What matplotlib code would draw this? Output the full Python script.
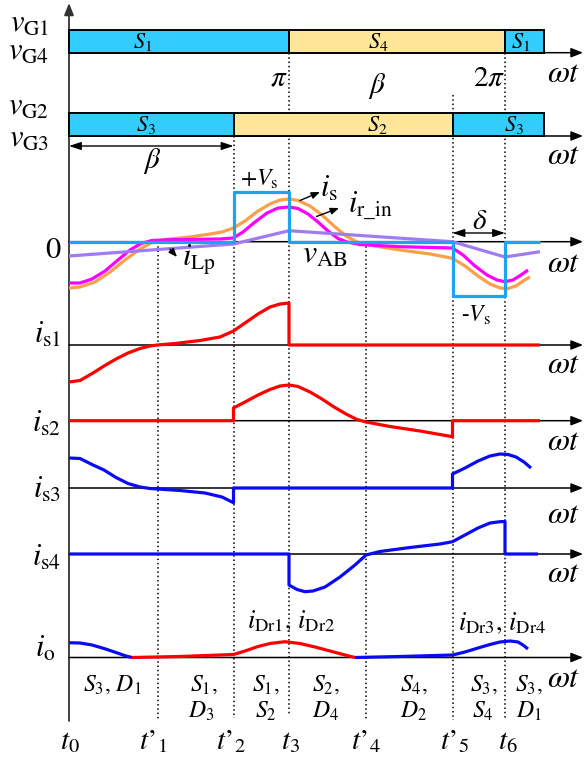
import matplotlib
matplotlib.use("Agg")
import matplotlib.pyplot as plt
from matplotlib.patches import Rectangle

plt.rcParams['mathtext.fontset'] = 'stix'
plt.rcParams['font.family'] = ['STIXGeneral', 'Liberation Serif', 'DejaVu Serif']

# ---------------- data ----------------
# switching instants along the wt axis
event_labels = ["$t_0$", "$t\u2019_1$", "$t\u2019_2$", "$t_3$", "$t\u2019_4$", "$t\u2019_5$", "$t_6$"]
event_x = [69, 157.5, 233.5, 289, 366, 452.5, 505]

# gate signals
gate1_edges = [69, 289, 505, 544]
gate1_labels = ["$S_1$", "$S_4$", "$S_1$"]
gate1_on = [True, False, True]
gate2_edges = [69, 233.5, 452.5, 544]
gate2_labels = ["$S_3$", "$S_2$", "$S_3$"]
gate2_on = [True, False, True]

# v_AB (relative to zero line, up positive)
vab_x = [69, 233.5, 233.5, 289, 289, 452.5, 452.5, 505, 505, 540]
vab_v = [0, 0, 50, 50, 0, 0, -54, -54, 0, 0]

# i_s (orange)
is_x = [69, 80, 95, 110, 125, 140, 151, 165, 190, 210, 222, 233.5, 245, 258, 270, 280,
        289, 298, 310, 322, 334, 346, 357, 375, 400, 430, 452.5, 465, 478, 490, 500,
        508, 516, 523, 530]
is_v = [-46.3, -45.3, -40.3, -30.3, -18.3, -7.3, -1.3, 2.2, 4.7, 7.7, 9.7, 13.7, 20.7,
        30.7, 37.7, 41.7, 42.7, 41.2, 35.7, 26.7, 15.7, 5.7, -0.3, -4.3, -8.3, -12.3,
        -16.6, -24.3, -34.3, -42.3, -46.3, -46.8, -44.3, -39.3, -35.3]

# i_r_in (magenta)
irin_x = [69, 80, 92, 105, 118, 130, 141, 152, 170, 200, 220, 233.5, 243, 255, 267, 278,
          289, 298, 308, 318, 328, 338, 347, 360, 400, 452.5, 463, 475, 487, 497, 505,
          513, 521, 528]
irin_v = [-41.3, -41.3, -37.3, -29.3, -18.3, -8.3, -1.8, 1.2, 2.0, 2.4, 2.7, 3.7, 9.7,
          19.7, 28.7, 33.7, 34.7, 33.2, 27.7, 19.7, 10.7, 3.2, -0.3, -2.8, -5.0, -6.3,
          -13.3, -24.3, -33.3, -38.3, -40.0, -38.3, -33.3, -28.3]

# i_Lp (purple)
ilp_x = [69, 233.5, 289, 452.5, 505, 540]
ilp_v = [-14.3, -2.3, 11.0, 0.0, -15.3, -10.0]

# i_s1
is1_x = [69, 80, 93, 104, 116, 128, 140, 150, 157.5, 175, 200, 220, 233.5, 245, 258,
         270, 280, 289, 289, 540]
is1_v = [-37, -35.5, -28, -21, -14, -8, -3.5, -1, 0, 1.5, 4.5, 8, 14, 22, 31, 38, 41,
         42, 0, 0]

# i_s2
is2_x = [69, 233.5, 233.5, 245, 258, 270, 280, 289, 298, 310, 322, 334, 346, 357, 366,
         390, 420, 452.5, 452.5, 540]
is2_v = [0, 0, 12.7, 18.7, 25.7, 31.2, 34.7, 35.7, 34.2, 28.7, 21.7, 13.7, 6.7, 1.2,
         -1.3, -5.8, -10.3, -16.0, 0, 0]

# i_s3
is3_x = [69, 80, 93, 104, 116, 128, 140, 150, 157.5, 180, 205, 222, 233.5, 233.5,
         452.5, 452.5, 465, 478, 490, 500, 508, 516, 524, 531]
is3_v = [30, 29.5, 23, 18, 10.5, 4.5, 1, -0.5, -1, -2.5, -5, -9, -14.7, 0,
         0, 14, 20, 27, 32, 34, 33.5, 31, 26, 20]

# i_s4
is4_x = [69, 289, 289, 297, 305, 313, 325, 340, 355, 366, 380, 410, 440, 452.5, 465,
         478, 490, 500, 505, 505, 538]
is4_v = [0, 0, -31, -35.5, -37.7, -37, -33, -23, -11, -1, 2.5, 6.5, 10, 12.3, 19, 26,
         31, 32.3, 32.5, 0, 0]

# i_o segments (rectifier diode currents)
io_seg1_x = [69, 80, 92, 104, 116, 126, 132]
io_seg1_v = [14.8, 14.5, 12.5, 9, 5, 1.5, 0]
io_seg2_x = [132, 180, 233.5, 245, 258, 270, 285, 300, 315, 330, 345, 355]
io_seg2_v = [0, 1, 3, 6.5, 11, 14, 15.8, 14, 10.5, 6.5, 2.5, 0]
io_seg3_x = [355, 400, 452.5, 465, 478, 490, 500, 510, 518, 523, 528]
io_seg3_v = [0, 1, 2.5, 5.5, 9.5, 13, 15.5, 16.5, 15.5, 12.5, 8.5]

# operating-interval labels
interval_line1 = ["$S_3$, $D_1$", "$S_1$,", "$S_1$,", "$S_2$,", "$S_4$,", "$S_3$,", "$S_3$,"]
interval_line2 = ["", "$D_3$", "$S_2$", "$D_4$", "$D_2$", "$S_4$", "$D_1$"]

# ---------------- layout ----------------
W, H = 584, 760
fig = plt.figure(figsize=(W / 100, H / 100), dpi=100)
ax = fig.add_axes([0, 0, 1, 1])
ax.set_xlim(0, W)
ax.set_ylim(H, 0)
ax.axis('off')

X0, XEND = 69, 583
row1_top, row1_bot = 30, 52.7
row2_top, row2_bot = 113, 136
B_main = 241.7
B_s1, B_s2, B_s3, B_s4, B_o = 345, 420.7, 488, 554, 657.5

BLUE_BOX = '#33CCFF'
YEL_BOX = '#FFE699'
C_VAB = '#1FA2F0'
C_IS = '#FBA04A'
C_IRIN = '#FF00FF'
C_ILP = '#A07CF0'
C_RED = '#FF0000'
C_BLUE = '#0A0AF5'
LW = 2.3


def haxis(y):
    ax.annotate('', xy=(XEND, y), xytext=(X0, y),
                arrowprops=dict(arrowstyle='-|>,head_length=0.55,head_width=0.22',
                                lw=1.1, color='black', shrinkA=0, shrinkB=0,
                                mutation_scale=13), zorder=2)


# vertical axis
ax.annotate('', xy=(X0, 3), xytext=(X0, 721),
            arrowprops=dict(arrowstyle='-|>,head_length=0.55,head_width=0.22', lw=1.3,
                            color='#333333', shrinkA=0, shrinkB=0, mutation_scale=13),
            zorder=2)

for y in [row1_bot, row2_bot, B_main, B_s1, B_s2, B_s3, B_s4, B_o]:
    haxis(y)

# dotted guide lines
dot_tops = [None, 242, 136, 52.7, 242, 95, 52.7]
dot_bots = [None, 720, 718, 715, 721, 720, 720]
for xe, yt, yb in zip(event_x, dot_tops, dot_bots):
    if yt is None:
        continue
    ax.plot([xe, xe], [yt, yb], color='black', lw=1.1, ls=(0, (1, 1.8)), zorder=1)


# gate boxes
def gate_row(edges, labels, on, top, bot, label_x, base_y):
    for i in range(len(labels)):
        x1, x2 = edges[i], edges[i + 1]
        ax.add_patch(Rectangle((x1, top), x2 - x1, bot - top,
                               facecolor=BLUE_BOX if on[i] else YEL_BOX,
                               edgecolor='black', lw=1.4, zorder=3))
        ax.text(label_x[i], base_y, labels[i], fontsize=16, ha='center',
                va='baseline', zorder=4)


gate_row(gate1_edges, gate1_labels, gate1_on, row1_top, row1_bot, [143, 378, 521], 48)
gate_row(gate2_edges, gate2_labels, gate2_on, row2_top, row2_bot, [146, 377, 514], 131)

# waveforms
def curve(xs, vs, base, color, z=5):
    ax.plot(xs, [base - v for v in vs], color=color, lw=LW, solid_joinstyle='round',
            solid_capstyle='butt', zorder=z)


curve(is_x, is_v, B_main, C_IS, 4)
curve(irin_x, irin_v, B_main, C_IRIN, 5)
curve(ilp_x, ilp_v, B_main, C_ILP, 5)
curve(vab_x, vab_v, B_main, C_VAB, 6)
curve(is1_x, is1_v, B_s1, C_RED)
curve(is2_x, is2_v, B_s2, C_RED)
curve(is3_x, is3_v, B_s3, C_BLUE)
curve(is4_x, is4_v, B_s4, C_BLUE)
curve(io_seg1_x, io_seg1_v, B_o, C_BLUE)
curve(io_seg2_x, io_seg2_v, B_o, C_RED)
curve(io_seg3_x, io_seg3_v, B_o, C_BLUE)

# ---------------- text ----------------
FS = 22
tk = dict(va='baseline', zorder=7)
ax.text(49, 32, r"$v_{\rm G1}$", fontsize=FS, ha='right', **tk)
ax.text(49, 60, r"$v_{\rm G4}$", fontsize=FS, ha='right', **tk)
ax.text(49, 115, r"$v_{\rm G2}$", fontsize=FS, ha='right', **tk)
ax.text(49, 147, r"$v_{\rm G3}$", fontsize=FS, ha='right', **tk)
ax.text(61, 258, "0", fontsize=FS, ha='right', va='baseline', zorder=7)
ax.text(61, 343, r"$i_{\rm s1}$", fontsize=FS, ha='right', **tk)
ax.text(61, 432, r"$i_{\rm s2}$", fontsize=FS, ha='right', **tk)
ax.text(61, 498, r"$i_{\rm s3}$", fontsize=FS, ha='right', **tk)
ax.text(61, 566, r"$i_{\rm s4}$", fontsize=FS, ha='right', **tk)
ax.text(56, 657, r"$i_{\rm o}$", fontsize=FS, ha='right', **tk)

for yb in [82, 164, 272, 373, 450, 523, 582, 687]:
    ax.text(547, yb, r"$\omega t$", fontsize=23, ha='left', **tk)

ax.text(279, 85, r"$\pi$", fontsize=21, ha='center', **tk)
ax.text(489, 85, r"$2\pi$", fontsize=21, ha='center', **tk)
ax.text(377, 93, r"$\beta$", fontsize=21, ha='center', **tk)
ax.text(152, 168, r"$\beta$", fontsize=21, ha='center', **tk)
ax.annotate('', xy=(X0, 146), xytext=(233.5, 146),
            arrowprops=dict(arrowstyle='<|-|>,head_length=0.6,head_width=0.2', lw=1.0,
                            color='black', shrinkA=0, shrinkB=0, mutation_scale=12))
ax.annotate('', xy=(452.5, 233), xytext=(505, 233),
            arrowprops=dict(arrowstyle='<|-|>,head_length=0.6,head_width=0.2', lw=1.0,
                            color='black', shrinkA=0, shrinkB=0, mutation_scale=12))
ax.text(480, 229, r"$\delta$", fontsize=21, ha='center', **tk)

ax.text(259, 186, r"$+V_{\rm s}$", fontsize=17, ha='center', **tk)
ax.text(476, 322, r"-$V_{\rm s}$", fontsize=17, ha='center', **tk)
ax.text(320, 197, r"$i_{\rm s}$", fontsize=FS, ha='left', **tk)
ax.text(348, 213, r"$i_{\rm r\_in}$", fontsize=FS, ha='left', **tk)
ax.text(182, 266, r"$i_{\rm Lp}$", fontsize=FS, ha='left', **tk)
ax.text(302, 263, r"$v_{\rm AB}$", fontsize=23, ha='left', **tk)

arr = dict(arrowstyle='-|>,head_length=0.5,head_width=0.2', lw=1.0, color='black',
           shrinkA=0, shrinkB=0, mutation_scale=10)
ax.annotate('', xy=(320, 192), xytext=(300, 200.5), arrowprops=arr, zorder=7)
ax.annotate('', xy=(339, 208), xytext=(316.5, 216.5), arrowprops=arr, zorder=7)
ax.annotate('', xy=(177, 257), xytext=(170, 249), arrowprops=arr, zorder=7)

ax.text(247, 628, r"$i_{\rm Dr1}$, $i_{\rm Dr2}$", fontsize=19, ha='left', **tk)
ax.text(458, 630, r"$i_{\rm Dr3}$, $i_{\rm Dr4}$", fontsize=19, ha='left', **tk)

int_left1 = [83, 190, 252, 312, 400, 470, 515]
int_left2 = [83, 188, 255, 312, 400, 472, 516]
for l1, l2, x1, x2 in zip(interval_line1, interval_line2, int_left1, int_left2):
    ax.text(x1, 691, l1, fontsize=17, ha='left', **tk)
    if l2:
        ax.text(x2, 718, l2, fontsize=17, ha='left', **tk)

label_dx = [1, -4, -3, 1, 0, 2, 3]
for lab, xe, dx in zip(event_labels, event_x, label_dx):
    ax.text(xe + dx, 749, lab, fontsize=21, ha='center', **tk)

fig.savefig("out.png", dpi=100)
